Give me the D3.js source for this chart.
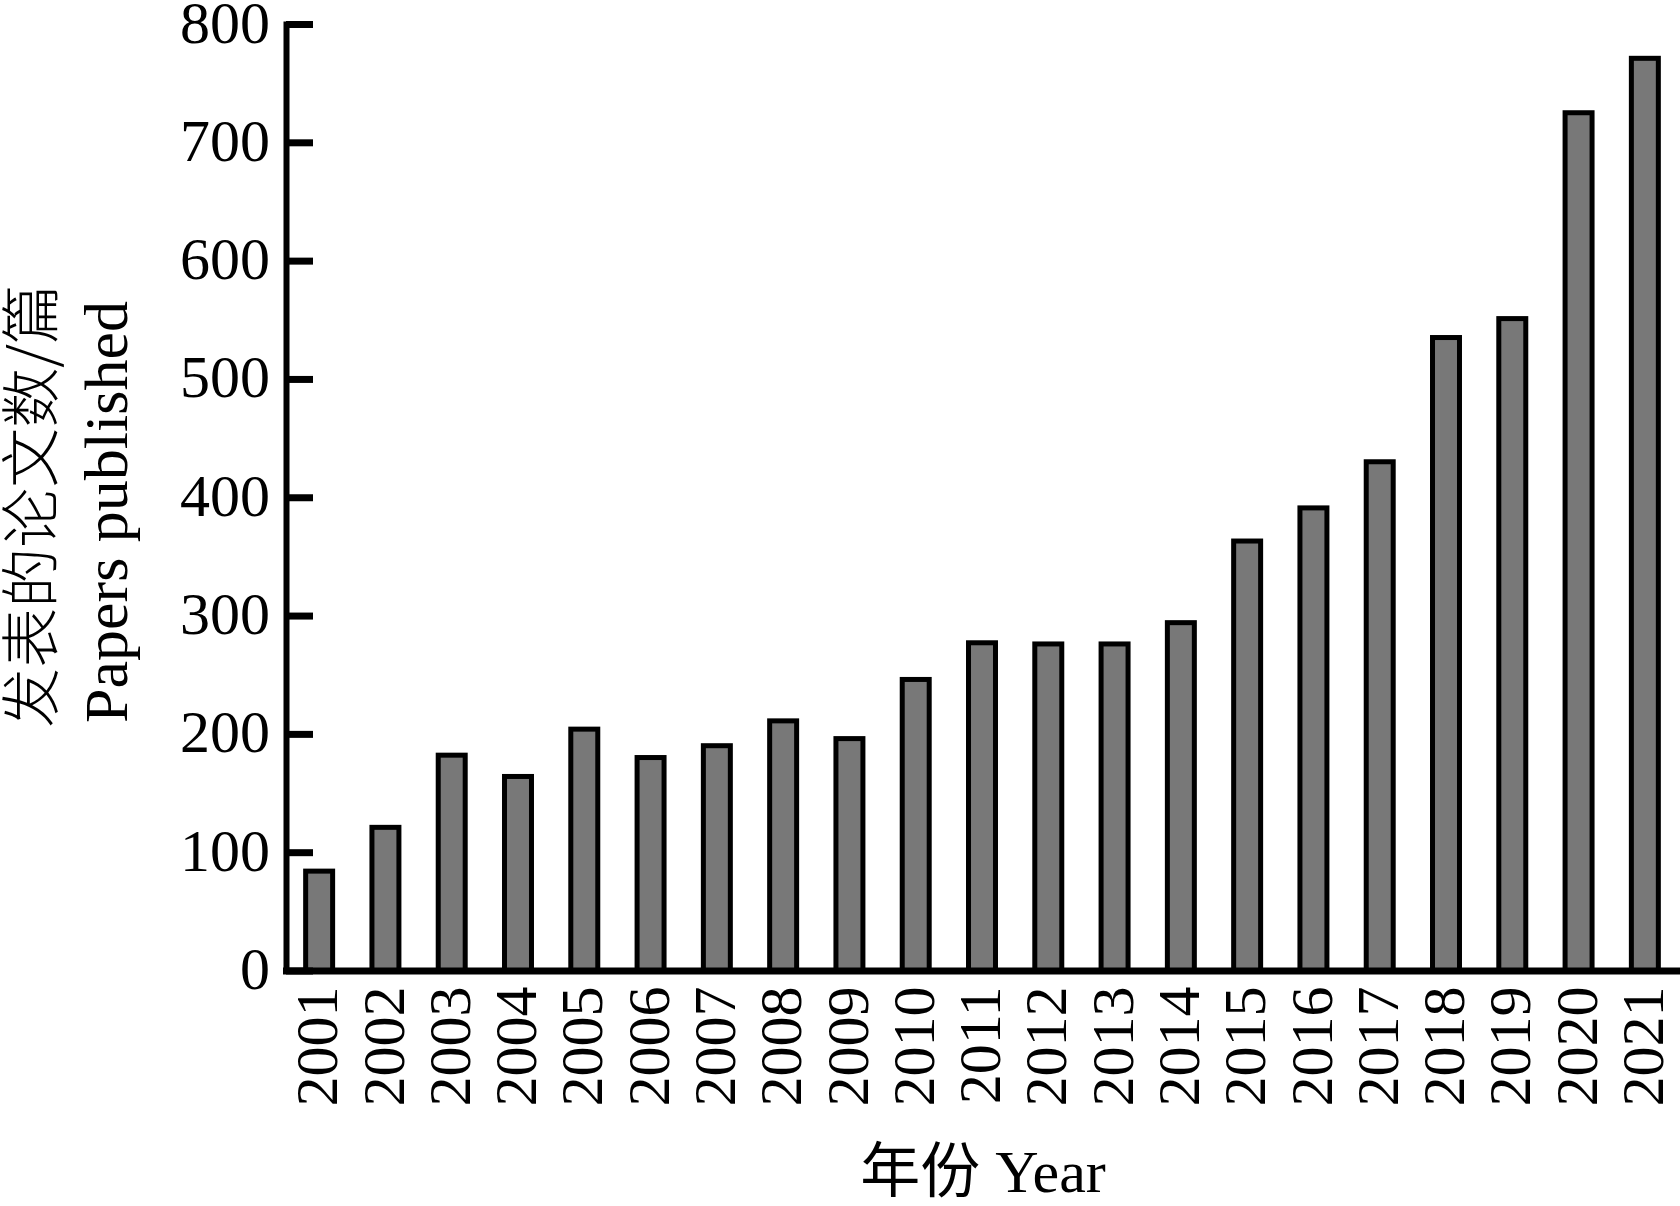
<!DOCTYPE html>
<html>
<head>
<meta charset="utf-8">
<script src="https://cdn.jsdelivr.net/npm/d3@7"></script>
<style>
  html, body { margin: 0; padding: 0; background: #fff; }
  svg { display: block; }
  text { font-family: "Liberation Serif", "Times New Roman", "Noto Sans CJK SC", serif; fill: #000; }
</style>
</head>
<body>
<svg id="chart" width="1680" height="1206"></svg>
<script>
const years = ["2001","2002","2003","2004","2005","2006","2007","2008","2009","2010","2011",
               "2012","2013","2014","2015","2016","2017","2018","2019","2020","2021"];
const papers = [84, 121, 182, 164, 204, 180, 190, 211, 196, 246, 277,
                276, 276, 294, 363, 391, 430, 535, 551, 725, 771];
const yTicks = [0, 100, 200, 300, 400, 500, 600, 700, 800];
const yTitleCn = "发表的论文数/篇";
const yTitleEn = "Papers published";
const xTitle = "年份 Year";

const svg = d3.select("#chart");
const x0 = 286, x1 = 1678, yBase = 970.5, yTop = 24;

const x = d3.scaleBand().domain(years).range([x0, x1]).paddingInner(0.593).paddingOuter(0.2965);
const y = d3.scaleLinear().domain([0, 800]).range([yBase, yTop]);

// bars
svg.append("g").selectAll("rect").data(years).join("rect")
  .attr("x", d => x(d))
  .attr("width", x.bandwidth())
  .attr("y", (d, i) => y(papers[i]))
  .attr("height", (d, i) => y(0) - y(papers[i]))
  .attr("fill", "#787878")
  .attr("stroke", "#000")
  .attr("stroke-width", 5);

// y axis
const yAxis = svg.append("g").attr("transform", `translate(${x0},0)`)
  .call(d3.axisLeft(y).tickValues(yTicks).tickSize(-27).tickSizeOuter(0).tickPadding(16));
yAxis.select(".domain").attr("stroke", "#000").attr("stroke-width", 6).attr("stroke-linecap", "square");
yAxis.selectAll(".tick line").attr("stroke", "#000").attr("stroke-width", 7);
yAxis.selectAll(".tick text").attr("font-size", 60).attr("dy", "0.3em")
  .style("font-family", '"Liberation Serif", serif');

// x axis
const xAxis = svg.append("g").attr("transform", `translate(0,${yBase})`)
  .call(d3.axisBottom(x).tickSize(0).tickSizeOuter(0));
xAxis.select(".domain").attr("stroke", "#000").attr("stroke-width", 7).attr("stroke-linecap", "square");
xAxis.selectAll(".tick text")
  .attr("font-size", 60)
  .attr("x", 0).attr("y", 0).attr("dy", "0.32em")
  .attr("transform", "translate(-1,16) rotate(-90)")
  .style("text-anchor", "end")
  .style("font-family", '"Liberation Serif", serif');

// y title (two lines, rotated)
svg.append("text")
  .attr("transform", "translate(53,506) rotate(-90)")
  .attr("text-anchor", "middle")
  .attr("font-size", 60)
  .style("font-family", '"Noto Sans CJK SC", sans-serif')
  .style("font-weight", 300)
  .text(yTitleCn);
svg.append("text")
  .attr("transform", "translate(127,512) rotate(-90)")
  .attr("text-anchor", "middle")
  .attr("font-size", 62)
  .text(yTitleEn);

// x title
svg.append("text")
  .attr("x", 983).attr("y", 1192)
  .attr("text-anchor", "middle")
  .attr("font-size", 60)
  .style("font-family", '"Liberation Serif", "Noto Sans CJK SC", serif')
  .text(xTitle);
</script>
</body>
</html>
